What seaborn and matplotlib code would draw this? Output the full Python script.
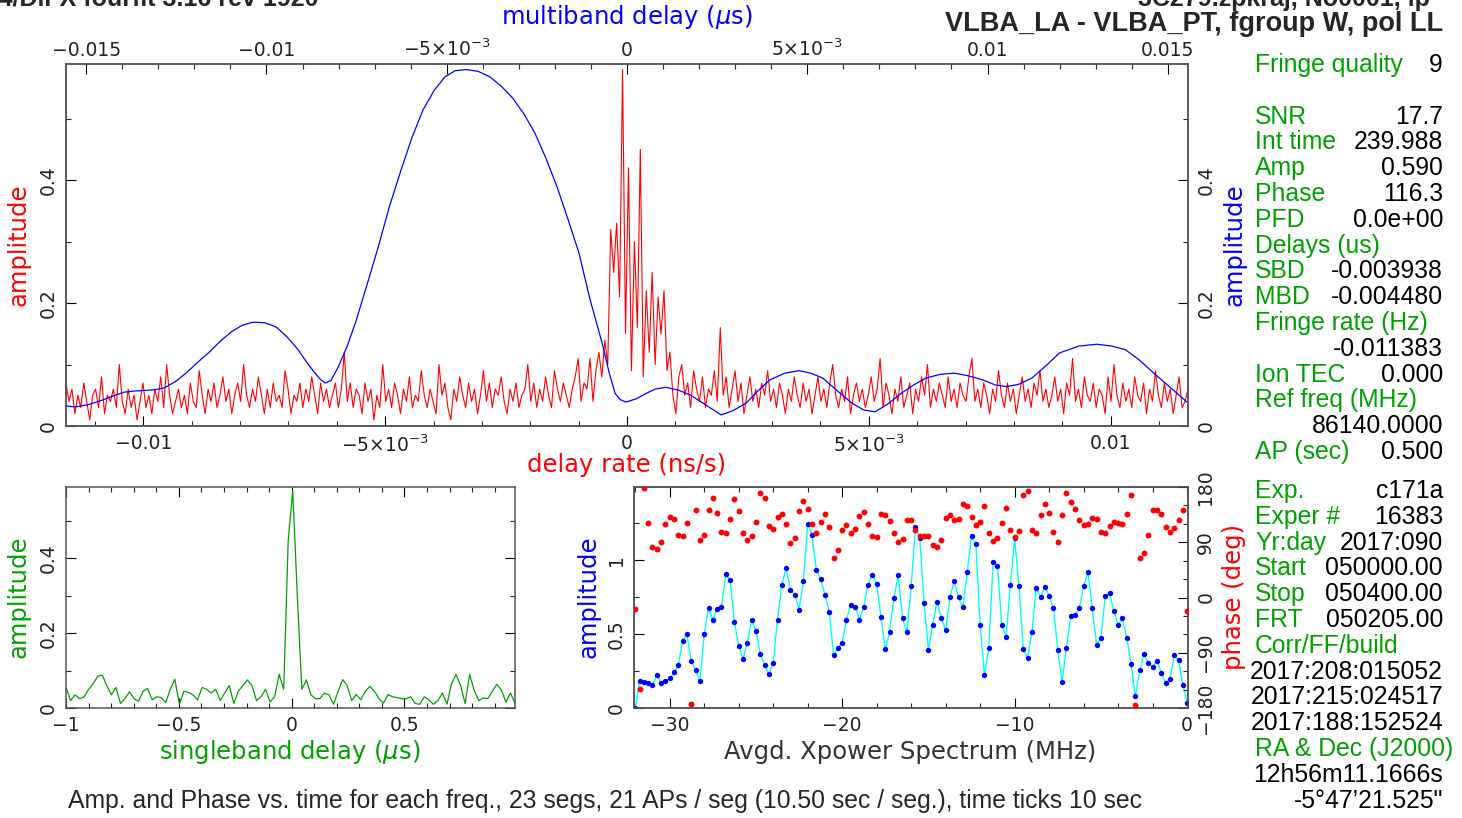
import matplotlib
matplotlib.use('Agg')
import matplotlib.pyplot as plt
from matplotlib.ticker import FixedLocator, FixedFormatter, MultipleLocator, FuncFormatter
import numpy as np
import seaborn as sns

# ---------------- data ----------------
# delay rate spectrum (red), sampled evenly over the rate window (ns/s)
rate_amp = [
    0.07, 0.04, 0.06, 0.02, 0.05, 0.03, 0.07, 0.04, 0.01, 0.05, 0.06, 0.03, 0.08, 0.02, 0.05, 0.04, 0.06, 0.03, 0.10, 0.04,
    0.02, 0.06, 0.03, 0.05, 0.01, 0.04, 0.07, 0.03, 0.05, 0.02, 0.06, 0.04, 0.08, 0.03, 0.10, 0.05, 0.02, 0.04, 0.06, 0.03,
    0.05, 0.02, 0.07, 0.04, 0.03, 0.09, 0.05, 0.02, 0.06, 0.04, 0.07, 0.03, 0.05, 0.08, 0.04, 0.06, 0.02, 0.05, 0.07, 0.04,
    0.10, 0.05, 0.03, 0.06, 0.04, 0.08, 0.05, 0.02, 0.06, 0.03, 0.07, 0.04, 0.05, 0.03, 0.09, 0.06, 0.02, 0.05, 0.04, 0.07,
    0.03, 0.06, 0.04, 0.08, 0.05, 0.02, 0.07, 0.04, 0.06, 0.03, 0.05, 0.07, 0.03, 0.06, 0.12, 0.04, 0.07, 0.03, 0.06, 0.05,
    0.02, 0.07, 0.04, 0.06, 0.01, 0.05, 0.03, 0.10, 0.04, 0.06, 0.03, 0.07, 0.05, 0.02, 0.06, 0.04, 0.08, 0.03, 0.05, 0.04,
    0.09, 0.05, 0.03, 0.06, 0.04, 0.02, 0.10, 0.05, 0.07, 0.03, 0.01, 0.06, 0.04, 0.08, 0.05, 0.03, 0.07, 0.04, 0.06, 0.02,
    0.05, 0.09, 0.04, 0.07, 0.03, 0.06, 0.05, 0.08, 0.04, 0.02, 0.06, 0.04, 0.07, 0.03, 0.05, 0.06, 0.10, 0.04, 0.07, 0.03,
    0.06, 0.04, 0.08, 0.05, 0.03, 0.09, 0.06, 0.04, 0.07, 0.05, 0.03, 0.06, 0.08, 0.11, 0.04, 0.07, 0.06, 0.11, 0.04, 0.09,
    0.12, 0.08, 0.14, 0.10, 0.32, 0.25, 0.33, 0.21, 0.58, 0.15, 0.42, 0.09, 0.30, 0.16, 0.45, 0.08, 0.22, 0.12, 0.25, 0.10,
    0.21, 0.15, 0.22, 0.09, 0.12, 0.05, 0.02, 0.08, 0.10, 0.05, 0.07, 0.03, 0.09, 0.06, 0.04, 0.08, 0.03, 0.06, 0.05, 0.09,
    0.04, 0.16, 0.05, 0.08, 0.03, 0.06, 0.09, 0.04, 0.07, 0.02, 0.05, 0.08, 0.04, 0.06, 0.03, 0.07, 0.05, 0.09, 0.04, 0.06,
    0.03, 0.07, 0.05, 0.02, 0.06, 0.04, 0.08, 0.05, 0.03, 0.07, 0.04, 0.06, 0.02, 0.05, 0.08, 0.04, 0.06, 0.03, 0.07, 0.10,
    0.05, 0.03, 0.06, 0.04, 0.08, 0.02, 0.05, 0.07, 0.04, 0.06, 0.03, 0.05, 0.08, 0.04, 0.06, 0.11, 0.03, 0.07, 0.05, 0.02,
    0.06, 0.04, 0.08, 0.03, 0.05, 0.07, 0.02, 0.06, 0.04, 0.08, 0.05, 0.10, 0.03, 0.06, 0.04, 0.07, 0.05, 0.03, 0.08, 0.04,
    0.06, 0.03, 0.07, 0.05, 0.04, 0.08, 0.11, 0.04, 0.06, 0.03, 0.07, 0.05, 0.02, 0.06, 0.04, 0.09, 0.05, 0.03, 0.07, 0.04,
    0.06, 0.02, 0.05, 0.08, 0.04, 0.06, 0.03, 0.07, 0.05, 0.09, 0.04, 0.06, 0.03, 0.05, 0.08, 0.04, 0.06, 0.02, 0.07, 0.05,
    0.11, 0.04, 0.06, 0.03, 0.08, 0.05, 0.04, 0.07, 0.03, 0.06, 0.05, 0.02, 0.08, 0.04, 0.10, 0.05, 0.03, 0.07, 0.04, 0.06,
    0.03, 0.08, 0.05, 0.04, 0.07, 0.02, 0.06, 0.04, 0.09, 0.05, 0.03, 0.07, 0.04, 0.06, 0.02, 0.05, 0.08, 0.03, 0.04, 0.06,
]
rate_lim = 0.0116

# multiband delay function (blue), delay in microseconds
mbd_x = [-0.01561, -0.01547, -0.01530, -0.01492, -0.01456, -0.01425, -0.01395, -0.01364, -0.01334, -0.01309,
         -0.01284, -0.01253, -0.01223, -0.01192, -0.01159, -0.01128, -0.01098, -0.01067, -0.01037, -0.01004,
         -0.00973, -0.00943, -0.00912, -0.00890, -0.00868, -0.00851, -0.00837, -0.00821, -0.00801, -0.00776,
         -0.00751, -0.00721, -0.00690, -0.00660, -0.00627, -0.00596, -0.00566, -0.00535, -0.00505, -0.00477,
         -0.00446, -0.00413, -0.00380, -0.00349, -0.00319, -0.00286, -0.00255, -0.00225, -0.00194, -0.00164,
         -0.00133, -0.00103, -0.00069, -0.00050, -0.00033, -0.00019, -0.00003, 0.00025, 0.00053, 0.00078,
         0.00108, 0.00144, 0.00177, 0.00219, 0.00261, 0.00294, 0.00330, 0.00363, 0.00396, 0.00438,
         0.00477, 0.00510, 0.00543, 0.00582, 0.00624, 0.00657, 0.00688, 0.00724, 0.00760, 0.00796,
         0.00829, 0.00868, 0.00907, 0.00945, 0.00987, 0.01020, 0.01053, 0.01087, 0.01123, 0.01162,
         0.01200, 0.01253, 0.01303, 0.01345, 0.01383, 0.01422, 0.01461, 0.01508, 0.01553]
mbd_amp = [0.034, 0.032, 0.031, 0.035, 0.042, 0.049, 0.055, 0.057, 0.058, 0.059,
           0.062, 0.072, 0.086, 0.103, 0.120, 0.138, 0.153, 0.164, 0.169, 0.168,
           0.161, 0.145, 0.124, 0.105, 0.088, 0.076, 0.070, 0.074, 0.096, 0.130,
           0.172, 0.230, 0.291, 0.355, 0.416, 0.470, 0.514, 0.546, 0.568, 0.578,
           0.580, 0.577, 0.568, 0.553, 0.535, 0.508, 0.476, 0.436, 0.389, 0.337,
           0.281, 0.207, 0.135, 0.088, 0.053, 0.043, 0.039, 0.044, 0.053, 0.060,
           0.063, 0.058, 0.050, 0.034, 0.018, 0.025, 0.037, 0.057, 0.075, 0.086,
           0.090, 0.086, 0.078, 0.058, 0.037, 0.026, 0.023, 0.036, 0.053, 0.067,
           0.078, 0.084, 0.086, 0.082, 0.075, 0.067, 0.064, 0.068, 0.078, 0.098,
           0.119, 0.130, 0.133, 0.130, 0.124, 0.107, 0.086, 0.062, 0.039]
mbd_lim = 0.01556

# singleband delay function (green), delay in microseconds
sbd_amp = [0.056, 0.020, 0.035, 0.025, 0.030, 0.050, 0.065, 0.085, 0.088, 0.060,
           0.035, 0.055, 0.012, 0.025, 0.043, 0.025, 0.018, 0.045, 0.052, 0.022,
           0.030, 0.028, 0.015, 0.050, 0.077, 0.010, 0.045, 0.042, 0.035, 0.022,
           0.055, 0.050, 0.040, 0.050, 0.020, 0.040, 0.060, 0.012, 0.045, 0.060,
           0.075, 0.060, 0.020, 0.030, 0.050, 0.016, 0.030, 0.090, 0.050, 0.450,
           0.580, 0.300, 0.050, 0.075, 0.035, 0.025, 0.025, 0.040, 0.035, 0.010,
           0.045, 0.076, 0.060, 0.020, 0.036, 0.022, 0.045, 0.058, 0.045, 0.025,
           0.013, 0.036, 0.030, 0.028, 0.025, 0.025, 0.030, 0.012, 0.010, 0.030,
           0.022, 0.010, 0.020, 0.040, 0.010, 0.065, 0.090, 0.060, 0.012, 0.090,
           0.047, 0.020, 0.027, 0.025, 0.045, 0.063, 0.048, 0.016, 0.040, 0.013]
sbd_range = (-1.0, 0.99)

# averaged cross-power spectrum, 0.25 MHz channels from -32 to 0 MHz
xp_amp = [0.000, 0.180, 0.175, 0.170, 0.157, 0.220, 0.170, 0.180, 0.200, 0.240,
          0.290, 0.456, 0.497, 0.317, 0.254, 0.180, 0.497, 0.674, 0.596, 0.670,
          0.680, 0.906, 0.865, 0.580, 0.420, 0.333, 0.440, 0.598, 0.520, 0.366,
          0.290, 0.227, 0.306, 0.598, 0.834, 0.946, 0.798, 0.766, 0.665, 0.856,
          1.247, 1.170, 0.935, 0.872, 0.764, 0.652, 0.355, 0.407, 0.440, 0.598,
          0.697, 0.685, 0.598, 0.685, 0.834, 0.900, 0.838, 0.613, 0.396, 0.512,
          0.744, 0.900, 0.607, 0.512, 0.822, 1.225, 1.146, 0.708, 0.393, 0.564,
          0.719, 0.607, 0.524, 0.753, 0.856, 0.748, 0.680, 0.917, 1.160, 1.108,
          0.562, 0.220, 0.407, 0.984, 0.962, 0.562, 0.483, 0.834, 1.146, 0.822,
          0.400, 0.337, 0.517, 0.809, 0.748, 0.820, 0.760, 0.674, 0.393, 0.175,
          0.407, 0.620, 0.629, 0.674, 0.827, 0.917, 0.674, 0.429, 0.472, 0.755,
          0.775, 0.654, 0.562, 0.607, 0.474, 0.299, 0.079, 0.254, 0.362, 0.303,
          0.276, 0.321, 0.236, 0.170, 0.193, 0.355, 0.326, 0.157, 0.036]
xp_phase = [-18.7, -148.6, 178.9, 122.1, 81.5, 78.8, 91.2, 120.4, 131.8, 127.5,
            102.0, 100.4, 122.1, -173.0, 142.1, 93.9, 102.0, 142.6, 161.6, 138.3,
            106.9, 105.8, 127.5, 161.0, 141.0, 104.7, 93.4, 100.4, 123.7, 169.7,
            162.7, 116.7, 112.3, 131.3, 135.6, 119.4, 88.5, 96.6, 141.0, 157.3,
            144.8, 119.4, 105.8, 123.7, 135.6, 115.0, 63.6, 77.7, 110.2, 118.3,
            105.8, 111.2, 132.9, 139.4, 120.4, 100.4, 99.3, 136.7, 134.5, 125.0,
            105.8, 89.6, 95.0, 126.4, 125.9, 109.6, 100.4, 100.4, 100.4, 85.8,
            81.5, 93.4, 130.2, 134.5, 126.4, 127.5, 151.8, 149.1, 131.8, 118.3,
            123.2, 149.1, 105.8, 92.3, 96.6, 122.1, 145.4, 109.6, 99.3, 108.5,
            167.0, 173.5, 110.2, 105.8, 134.0, 151.8, 138.3, 107.5, 90.7, 134.0,
            169.7, 155.6, 144.8, 126.4, 118.3, 119.4, 129.1, 127.5, 107.5, 105.8,
            116.7, 123.7, 122.1, 120.4, 135.6, 166.5, -174.6, 64.1, 73.3, 102.0,
            142.1, 142.1, 135.6, 115.0, 106.9, 114.0, 126.4, 142.6, -21.4]
xp_start, xp_step = -32.0, 0.25

info_top = [("Fringe quality", "9"), ("", ""), ("SNR", "17.7"), ("Int time", "239.988"),
            ("Amp", "0.590"), ("Phase", "116.3"), ("PFD", "0.0e+00"), ("Delays (us)", ""),
            ("SBD", "-0.003938"), ("MBD", "-0.004480"), ("Fringe rate (Hz)", ""), ("", "-0.011383"),
            ("Ion TEC", "0.000"), ("Ref freq (MHz)", ""), ("", "86140.0000"), ("AP (sec)", "0.500")]
info_bottom = [("Exp.", "c171a"), ("Exper #", "16383"), ("Yr:day", "2017:090"),
               ("Start", "050000.00"), ("Stop", "050400.00"), ("FRT", "050205.00"),
               ("Corr/FF/build", ""), ("", "2017:208:015052"), ("", "2017:215:024517"),
               ("", "2017:188:152524"), ("RA & Dec (J2000)", ""), ("", "12h56m11.1666s"),
               ("", "-5\u00b047\u201921.525\"")]

title_left = "Mk4/DiFX fourfit 3.16 rev 1920"
title_right = "3C279.zpkraj, No0001, lp"
baseline_line = "VLBA_LA - VLBA_PT, fgroup W, pol LL"
caption = ("Amp. and Phase vs. time for each freq., 23 segs, 21 APs / seg "
           "(10.50 sec / seg.), time ticks 10 sec")

# ---------------- styling ----------------
sns.set_style("ticks")
plt.rcParams["font.family"] = ["DejaVu Sans"]
plt.rcParams["mathtext.fontset"] = "dejavusans"

RED, BLUE, GREEN, CYAN = "#ff0000", "#0000ff", "#00a000", "#00ffff"
W, H = 1462, 818
LAB = 17.5   # axis label size
TICK = 13.5  # tick label size


def box(x0, y0, x1, y1):
    # pixel box -> figure fraction rect
    return [x0 / W, 1 - y1 / H, (x1 - x0) / W, (y1 - y0) / H]


def ftext(x, y, s, **kw):
    fig.text(x / W, 1 - y / H, s, **kw)


def minus_fmt(v, pos):
    if abs(v) < 1e-12:
        return "0"
    return ("%g" % v).replace("-", "\u2212")


def frame(ax):
    for sp in ax.spines.values():
        sp.set_color("#555555")
        sp.set_linewidth(1.1)
    ax.tick_params(which="major", direction="in", length=7, width=0.8,
                   colors="black", labelsize=TICK, labelcolor="#222222")
    ax.tick_params(which="minor", direction="in", length=3.5, width=0.8)


def vlabels(ax):
    ax.tick_params(axis="y", labelrotation=90, pad=6)
    for lab in ax.get_yticklabels():
        lab.set_va("center")


fig = plt.figure(figsize=(W / 100, H / 100), dpi=100)

# ---------------- main panel: delay rate + multiband delay ----------------
ax = fig.add_axes(box(66, 64, 1188, 426))
rate_x = np.linspace(-rate_lim, rate_lim, len(rate_amp))
sns.lineplot(x=rate_x, y=rate_amp, ax=ax, color=RED, lw=0.8, estimator=None, sort=False)
ax.set_xlim(-rate_lim, rate_lim)
ax.set_ylim(0, 0.589)
ax.set_xlabel("")
ax.set_ylabel("")
rate_ticks = [-0.01, -0.005, 0, 0.005, 0.01]
ax.xaxis.set_major_locator(FixedLocator(rate_ticks))
ax.xaxis.set_major_formatter(FixedFormatter(["\u22120.01", r"$-5{\times}10^{-3}$", "0",
                                             r"$5{\times}10^{-3}$", "0.01"]))
ax.xaxis.set_minor_locator(MultipleLocator(0.001))
ax.yaxis.set_major_locator(MultipleLocator(0.2))
ax.yaxis.set_minor_locator(MultipleLocator(0.1))
ax.yaxis.set_major_formatter(FuncFormatter(minus_fmt))
frame(ax)

ax_top = ax.twiny()
sns.lineplot(x=mbd_x, y=mbd_amp, ax=ax_top, color=BLUE, lw=0.9, estimator=None, sort=False)
ax_top.set_xlim(-mbd_lim, mbd_lim)
ax_top.set_xlabel("")
ax_top.set_ylabel("")
mbd_ticks = [-0.015, -0.01, -0.005, 0, 0.005, 0.01, 0.015]
ax_top.xaxis.set_major_locator(FixedLocator(mbd_ticks))
ax_top.xaxis.set_major_formatter(FixedFormatter(["\u22120.015", "\u22120.01", r"$-5{\times}10^{-3}$", "0",
                                                 r"$5{\times}10^{-3}$", "0.01", "0.015"]))
ax_top.xaxis.set_minor_locator(MultipleLocator(0.001))
frame(ax_top)
ax_top.tick_params(axis="x", which="both", top=True, bottom=False, labeltop=True, pad=3)
ax.tick_params(axis="x", which="both", top=False, bottom=True, pad=6)
ax.tick_params(axis="y", which="both", left=True, right=True, labelleft=True, labelright=True)
vlabels(ax)

ftext(627, 17, "multiband delay ($\\mu$s)", color=BLUE, fontsize=LAB, ha="center", va="center")
ftext(627, 465, "delay rate (ns/s)", color=RED, fontsize=LAB, ha="center", va="center")
ftext(19, 245, "amplitude", color=RED, fontsize=LAB, ha="center", va="center", rotation=90)
ftext(1234, 245, "amplitude", color=BLUE, fontsize=LAB, ha="center", va="center", rotation=90)

# ---------------- singleband delay ----------------
ax_s = fig.add_axes(box(66, 487, 515, 708))
sbd_x = np.linspace(sbd_range[0], sbd_range[1], len(sbd_amp))
sns.lineplot(x=sbd_x, y=sbd_amp, ax=ax_s, color=GREEN, lw=0.9, estimator=None, sort=False)
ax_s.set_xlim(*sbd_range)
ax_s.set_ylim(0, 0.591)
ax_s.set_xlabel("")
ax_s.set_ylabel("")
ax_s.xaxis.set_major_locator(MultipleLocator(0.5))
ax_s.xaxis.set_minor_locator(MultipleLocator(0.1))
ax_s.xaxis.set_major_formatter(FuncFormatter(minus_fmt))
ax_s.yaxis.set_major_locator(MultipleLocator(0.2))
ax_s.yaxis.set_minor_locator(MultipleLocator(0.1))
ax_s.yaxis.set_major_formatter(FuncFormatter(minus_fmt))
frame(ax_s)
ax_s.tick_params(which="both", top=True, right=True)
ax_s.tick_params(axis="x", pad=6)
vlabels(ax_s)
ftext(19, 597, "amplitude", color=GREEN, fontsize=LAB, ha="center", va="center", rotation=90)
ftext(290, 752, "singleband delay ($\\mu$s)", color=GREEN, fontsize=LAB, ha="center", va="center")

# ---------------- cross power spectrum ----------------
ax_x = fig.add_axes(box(634, 487, 1188, 708))
xp_x = xp_start + xp_step * np.arange(len(xp_amp))
sns.lineplot(x=xp_x, y=xp_amp, ax=ax_x, color=CYAN, lw=1.0, estimator=None, sort=False)
sns.scatterplot(x=xp_x, y=xp_amp, ax=ax_x, color=BLUE, s=15, linewidth=0, zorder=3)
ax_x.set_xlim(-32.07, 0.05)
ax_x.set_ylim(0, 1.494)
ax_x.set_xlabel("")
ax_x.set_ylabel("")
ax_x.xaxis.set_major_locator(MultipleLocator(10))
ax_x.xaxis.set_minor_locator(MultipleLocator(2))
ax_x.xaxis.set_major_formatter(FuncFormatter(minus_fmt))
ax_x.yaxis.set_major_locator(MultipleLocator(0.5))
ax_x.yaxis.set_minor_locator(MultipleLocator(0.25))
ax_x.yaxis.set_major_formatter(FuncFormatter(minus_fmt))
frame(ax_x)
ax_x.tick_params(which="both", top=True)
ax_x.tick_params(axis="x", pad=6)
vlabels(ax_x)

ax_p = ax_x.twinx()
sns.scatterplot(x=xp_x, y=xp_phase, ax=ax_p, color=RED, s=18, linewidth=0, zorder=3)
ax_p.set_ylim(-180, 180)
ax_p.set_ylabel("")
ax_p.yaxis.set_major_locator(MultipleLocator(90))
ax_p.yaxis.set_minor_locator(MultipleLocator(30))
ax_p.yaxis.set_major_formatter(FuncFormatter(minus_fmt))
frame(ax_p)
vlabels(ax_p)

ftext(588, 597, "amplitude", color=BLUE, fontsize=LAB, ha="center", va="center", rotation=90)
ftext(1234, 597, "phase (deg)", color=RED, fontsize=LAB, ha="center", va="center", rotation=90)
ftext(910, 752, "Avgd. Xpower Spectrum (MHz)", color="#333333", fontsize=LAB, ha="center", va="center")

# ---------------- header, caption, info panel ----------------
# the first header line sits mostly above the page edge in the original plot
sans = "Liberation Sans"
ftext(318, 6, title_left, fontsize=18, fontweight="bold", family=sans, ha="right", va="baseline")
ftext(1430, 6, title_right, fontsize=18, fontweight="bold", family=sans, ha="right", va="baseline")
ftext(1443, 24, baseline_line, fontsize=19.5, fontweight="bold", family=sans, ha="right", va="center")
ftext(605, 801, caption, fontsize=17.8, family=sans, ha="center", va="center")

step = 25.8
INFO = 17.8
for k, (lab, val) in enumerate(info_top):
    y = 65 + k * step
    if lab:
        ftext(1255, y, lab, fontsize=INFO, family=sans, color=GREEN, ha="left", va="center")
    if val:
        ftext(1443, y, val, fontsize=INFO, family=sans, color="black", ha="right", va="center")
for k, (lab, val) in enumerate(info_bottom):
    y = 491 + k * step
    if lab:
        ftext(1255, y, lab, fontsize=INFO, family=sans, color=GREEN, ha="left", va="center")
    if val:
        ftext(1443, y, val, fontsize=INFO, family=sans, color="black", ha="right", va="center")

fig.savefig("out.png", dpi=100)
